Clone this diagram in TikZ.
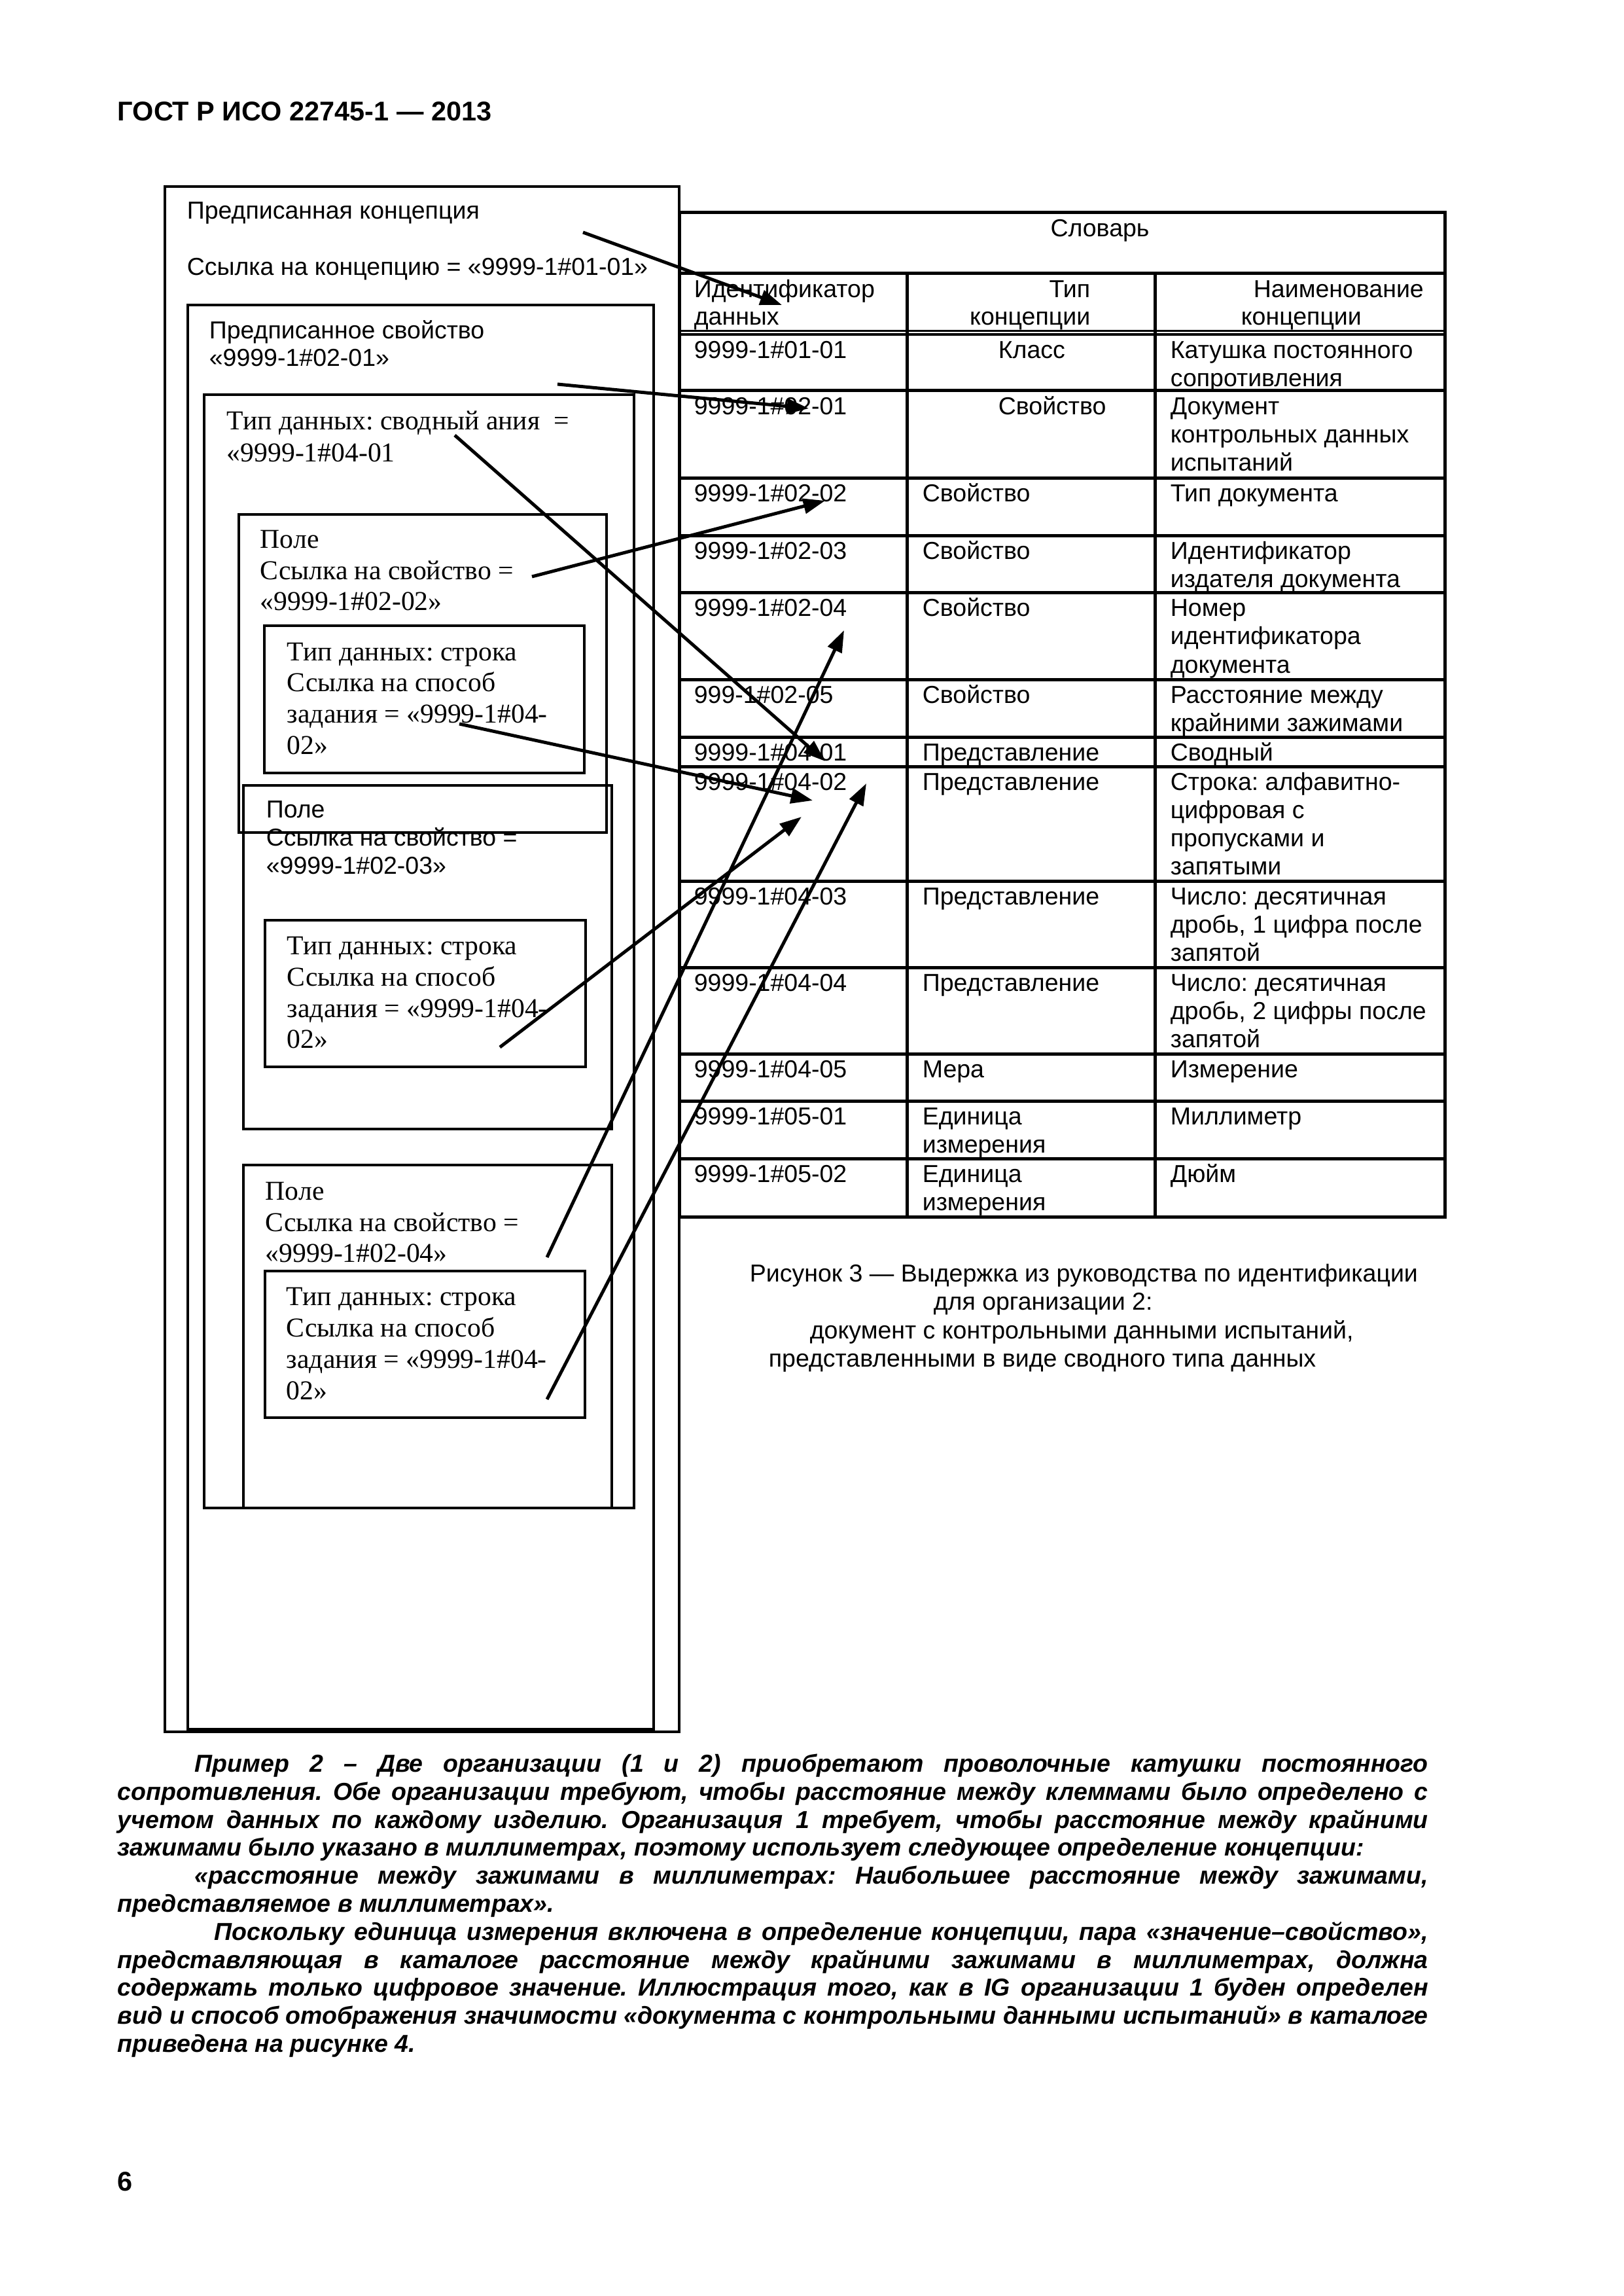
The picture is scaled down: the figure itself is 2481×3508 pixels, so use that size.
\documentclass[tikz,border=0pt]{standalone}
\usepackage{fontspec}
\setmainfont{Liberation Sans}
\newfontfamily\timesf{Liberation Serif}
\usetikzlibrary{arrows.meta}
\newcommand\ars{\fontsize{9}{10.3}\selectfont}
\newcommand\tms{\timesf\fontsize{10}{11.3}\selectfont}
\newcommand\bdf{\fontsize{9}{10.3}\selectfont\bfseries\itshape\frenchspacing}
\newcommand\hdf{\fontsize{9.95}{11}\selectfont\bfseries}
\begin{document}
\frenchspacing
\begin{tikzpicture}[x=0.24pt,y=-0.24pt,
  boxl/.style={line width=0.9pt},
  tabl/.style={line width=1.2pt},
  arr/.style={line width=1.2pt,-{Triangle[length=8pt,width=5.5pt]}},
  atx/.style={anchor=base west,inner sep=0pt,font=\ars},
  atxe/.style={anchor=base east,inner sep=0pt,font=\ars},
  ttx/.style={anchor=base west,inner sep=0pt,font=\tms},
  btx/.style={anchor=base west,inner sep=0pt,font=\bdf},
  htx/.style={anchor=base west,inner sep=0pt,font=\hdf}]
\useasboundingbox[fill=white] (0,0) rectangle (2481,3508);

% header and page number
\node[htx] (hdr) at (179,185) {ГОСТ Р ИСО 22745-1 — 2013};
\node[htx] (pg) at (179,3347) {6};

% nested boxes
\draw[boxl] (252,285) rectangle (1038,2646);
\draw[boxl] (287,466) rectangle (999,2642);
\draw[boxl] (312,603) rectangle (969,2304);
\draw[boxl] (365,786) rectangle (927,1272);
\draw[boxl] (404,956) rectangle (893,1181);
\draw[boxl] (372,1200) rectangle (935,1725);
\draw[boxl] (405,1406) rectangle (895,1630);
\draw[boxl] (372,1780) rectangle (935,2304);
\draw[boxl] (405,1942) rectangle (894,2166);

% box texts
\node[atx] (b1a) at (285,335) {Предписанная концепция};
\node[atx] (b1b) at (285,421) {Ссылка на концепцию = «9999-1\#01-01»};
\node[atx] (b2a) at (319,518) {Предписанное свойство};
\node[atx] (b2b) at (319,560) {«9999-1\#02-01»};
\node[ttx] (b3a) at (346,657) {Тип данных: сводный ания ~=};
\node[ttx] (b3b) at (346,706) {«9999-1\#04-01};
\node[ttx] (b4a) at (397,838) {Поле};
\node[ttx] (b4b) at (397,886) {Ссылка на свойство =};
\node[ttx] (b4c) at (397,933) {«9999-1\#02-02»};
\node[ttx] (b5a) at (438,1009) {Тип данных: строка};
\node[ttx] (b5b) at (438,1056) {Ссылка на способ};
\node[ttx] (b5c) at (438,1104) {задания = «9999-1\#04-};
\node[ttx] (b5d) at (438,1152) {02»};
\node[atx] (b6a) at (406,1249) {Поле};
\node[atx] (b6b) at (406,1292) {Ссылка на свойство =};
\node[atx] (b6c) at (406,1335) {«9999-1\#02-03»};
\node[ttx] (b7a) at (438,1458) {Тип данных: строка};
\node[ttx] (b7b) at (438,1506) {Ссылка на способ};
\node[ttx] (b7c) at (438,1554) {задания = «9999-1\#04-};
\node[ttx] (b7d) at (438,1601) {02»};
\node[ttx] (b8a) at (405,1833) {Поле};
\node[ttx] (b8b) at (405,1881) {Ссылка на свойство =};
\node[ttx] (b8c) at (405,1928) {«9999-1\#02-04»};
\node[ttx] (b9a) at (437,1994) {Тип данных: строка};
\node[ttx] (b9b) at (437,2042) {Ссылка на способ};
\node[ttx] (b9c) at (437,2090) {задания = «9999-1\#04-};
\node[ttx] (b9d) at (437,2138) {02»};

% table
\draw[tabl] (1038,324.5) rectangle (2208,1859);
\draw[tabl] (1038,418) -- (2208,418);
\draw[line width=0.8pt] (1038,505.5) -- (2208,505.5);
\draw[line width=0.8pt] (1038,511) -- (2208,511);
\foreach \yy in {597,731,818.5,906,1038,1126,1171,1346.5,1478,1610,1682,1770}
  \draw[tabl] (1038,\yy) -- (2208,\yy);
\draw[tabl] (1386,418) -- (1386,1859);
\draw[tabl] (1765,418) -- (1765,1859);

\node[anchor=base,inner sep=0pt,font=\ars] (tslov) at (1681,362) {Словарь};
\node[atx] (h1a) at (1060,455) {Идентификатор};
\node[atx] (h1b) at (1060,497) {данных};
\node[atxe] (h2a) at (1667,455) {Тип};
\node[atxe] (h2b) at (1667,497) {концепции};
\node[atx] (h3a) at (1915,455) {Наименование};
\node[atx] (h3b) at (1896,497) {концепции};

\node[atx] (r1a) at (1060,547.5) {9999-1\#01-01};
\node[atx] (r1b) at (1525,547.5) {Класс};
\node[atx] (r1c) at (1788,547.5) {Катушка постоянного};
\node[atx] (r1d) at (1788,590.5) {сопротивления};

\node[atx] (r2a) at (1060,633.5) {9999-1\#02-01};
\node[atx] (r2b) at (1525,633.5) {Свойство};
\node[atx] (r2c) at (1788,633.5) {Документ};
\node[atx] (r2d) at (1788,676.5) {контрольных данных};
\node[atx] (r2e) at (1788,719.5) {испытаний};

\node[atx] (r3a) at (1060,767) {9999-1\#02-02};
\node[atx] (r3b) at (1409,767) {Свойство};
\node[atx] (r3c) at (1788,767) {Тип документа};

\node[atx] (r4a) at (1060,854.5) {9999-1\#02-03};
\node[atx] (r4b) at (1409,854.5) {Свойство};
\node[atx] (r4c) at (1788,854.5) {Идентификатор};
\node[atx] (r4d) at (1788,897.5) {издателя документа};

\node[atx] (r5a) at (1060,942) {9999-1\#02-04};
\node[atx] (r5b) at (1409,942) {Свойство};
\node[atx] (r5c) at (1788,942) {Номер};
\node[atx] (r5d) at (1788,985) {идентификатора};
\node[atx] (r5e) at (1788,1028) {документа};

\node[atx] (r6a) at (1060,1074) {999-1\#02-05};
\node[atx] (r6b) at (1409,1074) {Свойство};
\node[atx] (r6c) at (1788,1074) {Расстояние между};
\node[atx] (r6d) at (1788,1117) {крайними зажимами};

\node[atx] (r7a) at (1060,1162) {9999-1\#04-01};
\node[atx] (r7b) at (1409,1162) {Представление};
\node[atx] (r7c) at (1788,1162) {Сводный};

\node[atx] (r8a) at (1060,1207) {9999-1\#04-02};
\node[atx] (r8b) at (1409,1207) {Представление};
\node[atx] (r8c) at (1788,1207) {Строка: алфавитно-};
\node[atx] (r8d) at (1788,1250) {цифровая с};
\node[atx] (r8e) at (1788,1293) {пропусками и};
\node[atx] (r8f) at (1788,1336) {запятыми};

\node[atx] (r9a) at (1060,1382.5) {9999-1\#04-03};
\node[atx] (r9b) at (1409,1382.5) {Представление};
\node[atx] (r9c) at (1788,1382.5) {Число: десятичная};
\node[atx] (r9d) at (1788,1425.5) {дробь, 1 цифра после};
\node[atx] (r9e) at (1788,1468.5) {запятой};

\node[atx] (r10a) at (1060,1514) {9999-1\#04-04};
\node[atx] (r10b) at (1409,1514) {Представление};
\node[atx] (r10c) at (1788,1514) {Число: десятичная};
\node[atx] (r10d) at (1788,1557) {дробь, 2 цифры после};
\node[atx] (r10e) at (1788,1600) {запятой};

\node[atx] (r11a) at (1060,1646) {9999-1\#04-05};
\node[atx] (r11b) at (1409,1646) {Мера};
\node[atx] (r11c) at (1788,1646) {Измерение};

\node[atx] (r12a) at (1060,1718) {9999-1\#05-01};
\node[atx] (r12b) at (1409,1718) {Единица};
\node[atx] (r12c) at (1409,1761) {измерения};
\node[atx] (r12d) at (1788,1718) {Миллиметр};

\node[atx] (r13a) at (1060,1806) {9999-1\#05-02};
\node[atx] (r13b) at (1409,1806) {Единица};
\node[atx] (r13c) at (1409,1849) {измерения};
\node[atx] (r13d) at (1788,1806) {Дюйм};

% caption
\node[atx] (cap1) at (1145,1958) {Рисунок 3 — Выдержка из руководства по идентификации};
\node[atx] (cap2) at (1426,2001) {для организации 2:};
\node[atx] (cap3) at (1237,2045) {документ с контрольными данными испытаний,};
\node[atx] (cap4) at (1174,2088) {представленными в виде сводного типа данных};

% arrows
\coordinate (a1s) at (891,355);  \coordinate (a1e) at (1195,466);
\coordinate (a2s) at (852,587);  \coordinate (a2e) at (1236,624);
\coordinate (a3s) at (695,665);  \coordinate (a3e) at (1261,1163);
\coordinate (a4s) at (813,881);  \coordinate (a4e) at (1261,765);
\coordinate (a5s) at (702,1106); \coordinate (a5e) at (1242,1223);
\coordinate (a6s) at (764,1600); \coordinate (a6e) at (1225,1248);
\coordinate (a7s) at (836,1921); \coordinate (a7e) at (1290,963);
\coordinate (a8s) at (836,2138); \coordinate (a8e) at (1324,1197);
\foreach \k in {1,...,8} \draw[arr] (a\k s) -- (a\k e);

% body text
\node[btx] (p1) at (297,2707) {\makebox[452.4pt][s]{Пример 2 – Две организации (1 и 2) приобретают проволочные катушки постоянного}};
\node[btx] (p2) at (179,2750) {\makebox[480.7pt][s]{сопротивления. Обе организации требуют, чтобы расстояние между клеммами было определено с}};
\node[btx] (p3) at (179,2793) {\makebox[480.7pt][s]{учетом данных по каждому изделию. Организация 1 требует, чтобы расстояние между крайними}};
\node[btx] (p4) at (179,2835) {зажимами было указано в миллиметрах, поэтому использует следующее определение концепции:};
\node[btx] (p5) at (297,2878) {\makebox[452.4pt][s]{«расстояние между зажимами в миллиметрах: Наибольшее расстояние между зажимами,}};
\node[btx] (p6) at (179,2921) {представляемое в миллиметрах».};
\node[btx] (p7) at (327,2964) {\makebox[445.2pt][s]{Поскольку единица измерения включена в определение концепции, пара «значение–свойство»,}};
\node[btx] (p8) at (179,3007) {\makebox[480.7pt][s]{представляющая в каталоге расстояние между крайними зажимами в миллиметрах, должна}};
\node[btx] (p9) at (179,3049) {\makebox[480.7pt][s]{содержать только цифровое значение. Иллюстрация того, как в IG организации 1 буден определен}};
\node[btx] (p10) at (179,3092) {\makebox[480.7pt][s]{вид и способ отображения значимости «документа с контрольными данными испытаний» в каталоге}};
\node[btx] (p11) at (179,3135) {приведена на рисунке 4.};
\end{tikzpicture}
\end{document}
